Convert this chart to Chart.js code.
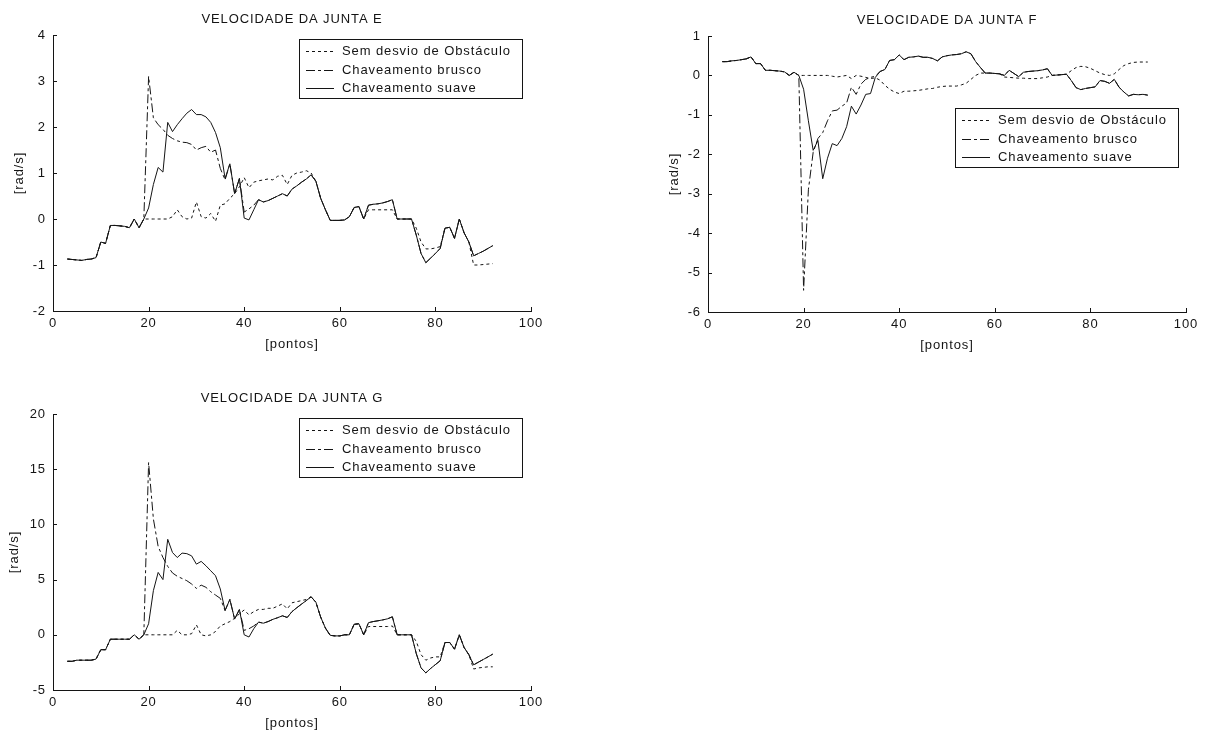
<!DOCTYPE html>
<html>
<head>
<meta charset="utf-8">
<title>Velocidade das juntas E, F e G</title>
<script src="https://cdn.jsdelivr.net/npm/chart.js@4.4.0/dist/chart.umd.min.js"></script>
<style>
  html, body { margin: 0; padding: 0; background: #fff; overflow: hidden; }
  #fig { position: relative; width: 1205px; height: 735px; }
  #fig canvas { position: absolute; }
</style>
</head>
<body>
<div id="fig">
  <canvas id="juntaE" width="600" height="356" style="left:0px;top:0px"></canvas>
  <canvas id="juntaF" width="550" height="356" style="left:655px;top:1px"></canvas>
  <canvas id="juntaG" width="600" height="356" style="left:0px;top:379px"></canvas>
</div>
<script>
// Sample index along the trajectory (x axis, "pontos")
const pontos = [
   3,  4,  5,  6,  7,  8,  9, 10, 11, 12,
  13, 14, 15, 16, 17, 18, 19, 20, 21, 22,
  23, 24, 25, 26, 27, 28, 29, 30, 31, 32,
  33, 34, 35, 36, 37, 38, 39, 40, 41, 42,
  43, 44, 45, 46, 47, 48, 49, 50, 51, 52,
  53, 54, 55, 56, 57, 58, 59, 60, 61, 62,
  63, 64, 65, 66, 67, 68, 69, 70, 71, 72,
  73, 74, 75, 76, 77, 78, 79, 80, 81, 82,
  83, 84, 85, 86, 87, 88, 89, 90, 91, 92
];

const legendas = ['Sem desvio de Obstáculo', 'Chaveamento brusco', 'Chaveamento suave'];

// Junta E [rad/s]
const juntaE_sem = [
  -0.87,-0.88,-0.89,-0.90,-0.88,-0.87,-0.84,-0.50,-0.53,-0.14,
  -0.14,-0.15,-0.16,-0.19, 0.00,-0.19, 0.00, 0.00, 0.00, 0.00,
   0.00, 0.00, 0.05, 0.20, 0.05, 0.00, 0.02, 0.37, 0.05, 0.02,
   0.12,-0.05, 0.30, 0.33, 0.45, 0.55, 0.70, 0.90, 0.68, 0.80,
   0.83, 0.85, 0.87, 0.85, 0.93, 0.95, 0.75, 0.95, 1.00, 1.02,
   1.05, 1.00, 0.82, 0.45, 0.20,-0.03,-0.03,-0.03,-0.02, 0.05,
   0.25, 0.27, 0.00, 0.20, 0.20, 0.20, 0.20, 0.20, 0.20, 0.00,
   0.00, 0.00, 0.00,-0.20,-0.50,-0.65,-0.65,-0.63,-0.60,-0.20,
  -0.18,-0.42, 0.00,-0.30,-0.50,-1.00,-1.00,-0.99,-0.98,-0.97
];
const juntaE_brusco = [
  -0.87,-0.88,-0.89,-0.90,-0.88,-0.87,-0.84,-0.50,-0.53,-0.14,
  -0.14,-0.15,-0.16,-0.19, 0.00,-0.19, 0.00, 3.10, 2.20, 2.05,
   1.95, 1.82, 1.75, 1.70, 1.67, 1.66, 1.62, 1.50, 1.55, 1.58,
   1.45, 1.50, 1.10, 0.85, 1.20, 0.55, 0.88, 0.15, 0.22, 0.30,
   0.42, 0.37, 0.40, 0.45, 0.50, 0.55, 0.50, 0.65, 0.72, 0.80,
   0.87, 0.96, 0.82, 0.45, 0.20,-0.03,-0.03,-0.03,-0.02, 0.05,
   0.25, 0.27, 0.00, 0.30, 0.32, 0.33, 0.35, 0.38, 0.42, 0.00,
   0.00, 0.00, 0.00,-0.35,-0.75,-0.95,-0.85,-0.75,-0.64,-0.20,
  -0.18,-0.42, 0.00,-0.30,-0.50,-0.80,-0.75,-0.70,-0.64,-0.58
];
const juntaE_suave = [
  -0.87,-0.88,-0.89,-0.90,-0.88,-0.87,-0.84,-0.50,-0.53,-0.14,
  -0.14,-0.15,-0.16,-0.19, 0.00,-0.19, 0.00, 0.24, 0.75, 1.12,
   1.02, 2.10, 1.90, 2.05, 2.18, 2.30, 2.38, 2.27, 2.27, 2.22,
   2.10, 1.88, 1.55, 0.88, 1.20, 0.55, 0.88, 0.02,-0.02, 0.20,
   0.42, 0.37, 0.40, 0.45, 0.50, 0.55, 0.50, 0.65, 0.72, 0.80,
   0.87, 0.96, 0.82, 0.45, 0.20,-0.03,-0.03,-0.03,-0.02, 0.05,
   0.25, 0.27, 0.00, 0.30, 0.32, 0.33, 0.35, 0.38, 0.42, 0.00,
   0.00, 0.00, 0.00,-0.35,-0.75,-0.95,-0.85,-0.75,-0.64,-0.20,
  -0.18,-0.42, 0.00,-0.30,-0.50,-0.80,-0.75,-0.70,-0.64,-0.58
];

// Junta F [rad/s]
const juntaF_sem = [
   0.35, 0.35, 0.37, 0.38, 0.40, 0.42, 0.47, 0.30, 0.30, 0.13,
   0.13, 0.12, 0.11, 0.09, 0.00, 0.08, 0.00, 0.00, 0.00, 0.00,
   0.00, 0.00, 0.00,-0.02,-0.04,-0.02, 0.00,-0.08, 0.00,-0.02,
  -0.05,-0.08,-0.06,-0.12,-0.25,-0.35,-0.42,-0.46,-0.40,-0.40,
  -0.39,-0.38,-0.36,-0.34,-0.33,-0.30,-0.28,-0.27,-0.27,-0.27,
  -0.24,-0.20,-0.10, 0.00, 0.06, 0.06, 0.06, 0.05, 0.04,-0.04,
  -0.05,-0.06,-0.07,-0.07,-0.08,-0.08,-0.08,-0.06,-0.04, 0.00,
   0.01, 0.02, 0.03, 0.12, 0.20, 0.23, 0.22, 0.18, 0.12, 0.06,
   0.02, 0.00, 0.04, 0.15, 0.25, 0.30, 0.33, 0.34, 0.34, 0.34
];
const juntaF_brusco = [
   0.35, 0.35, 0.37, 0.38, 0.40, 0.42, 0.47, 0.30, 0.30, 0.13,
   0.13, 0.12, 0.11, 0.09, 0.00, 0.08, 0.00,-5.45,-2.90,-1.95,
  -1.60,-1.45,-1.15,-0.90,-0.88,-0.78,-0.70,-0.30,-0.48,-0.22,
  -0.10,-0.05,-0.02, 0.10, 0.15, 0.38, 0.40, 0.52, 0.40, 0.46,
   0.47, 0.49, 0.46, 0.46, 0.43, 0.37, 0.47, 0.50, 0.52, 0.53,
   0.55, 0.60, 0.55, 0.35, 0.20, 0.06, 0.06, 0.05, 0.04, 0.00,
   0.13, 0.05,-0.03, 0.08, 0.10, 0.11, 0.12, 0.14, 0.17, 0.00,
   0.01, 0.02, 0.03,-0.13,-0.31,-0.36,-0.33,-0.31,-0.29,-0.13,
  -0.15,-0.20,-0.10,-0.30,-0.42,-0.52,-0.48,-0.49,-0.48,-0.50
];
const juntaF_suave = [
   0.35, 0.35, 0.37, 0.38, 0.40, 0.42, 0.47, 0.30, 0.30, 0.13,
   0.13, 0.12, 0.11, 0.09, 0.00, 0.08, 0.00,-0.35,-1.15,-1.90,
  -1.65,-2.62,-2.10,-1.73,-1.78,-1.60,-1.30,-0.78,-0.98,-0.75,
  -0.48,-0.46,-0.05, 0.10, 0.15, 0.38, 0.40, 0.52, 0.40, 0.46,
   0.47, 0.49, 0.46, 0.46, 0.43, 0.37, 0.47, 0.50, 0.52, 0.53,
   0.55, 0.60, 0.55, 0.35, 0.20, 0.06, 0.06, 0.05, 0.04, 0.00,
   0.13, 0.05,-0.03, 0.08, 0.10, 0.11, 0.12, 0.14, 0.17, 0.00,
   0.01, 0.02, 0.03,-0.13,-0.31,-0.36,-0.33,-0.31,-0.29,-0.13,
  -0.15,-0.20,-0.10,-0.30,-0.42,-0.52,-0.48,-0.49,-0.48,-0.50
];

// Junta G [rad/s]
const juntaG_sem = [
  -2.40,-2.40,-2.30,-2.30,-2.30,-2.30,-2.20,-1.35,-1.35,-0.40,
  -0.40,-0.40,-0.40,-0.40, 0.00,-0.40, 0.00, 0.00, 0.00, 0.00,
   0.00, 0.00, 0.00, 0.40, 0.00, 0.00, 0.10, 0.90, 0.00,-0.10,
   0.00, 0.30, 0.80, 1.00, 1.20, 1.50, 1.90, 2.25, 1.80, 2.10,
   2.30, 2.30, 2.40, 2.40, 2.60, 2.80, 2.35, 2.90, 3.00, 3.10,
   3.20, 3.44, 2.95, 1.60, 0.60,-0.05,-0.10,-0.10, 0.00, 0.00,
   0.95, 1.00, 0.00, 0.75, 0.75, 0.75, 0.75, 0.75, 0.80, 0.00,
   0.00, 0.00, 0.00,-0.60,-1.80,-2.30,-2.10,-2.00,-2.00,-0.70,
  -0.70,-1.30, 0.00,-1.15,-1.80,-3.10,-3.00,-2.95,-2.90,-2.90
];
const juntaG_brusco = [
  -2.40,-2.40,-2.30,-2.30,-2.30,-2.30,-2.20,-1.35,-1.35,-0.40,
  -0.40,-0.40,-0.40,-0.40, 0.00,-0.40, 0.00,15.60,10.50, 8.00,
   7.00, 6.20, 5.60, 5.30, 5.10, 4.90, 4.60, 4.20, 4.50, 4.30,
   3.90, 3.60, 3.30, 2.20, 3.20, 1.42, 2.30, 0.40, 0.55, 0.80,
   1.15, 1.05, 1.20, 1.40, 1.55, 1.72, 1.57, 2.10, 2.45, 2.78,
   3.10, 3.44, 2.95, 1.60, 0.60,-0.05,-0.10,-0.10, 0.00, 0.00,
   0.95, 1.00, 0.00, 1.10, 1.20, 1.27, 1.35, 1.45, 1.63, 0.00,
   0.00, 0.00, 0.00,-1.70,-3.00,-3.45,-3.05,-2.70,-2.35,-0.70,
  -0.70,-1.30, 0.00,-1.15,-1.80,-2.72,-2.48,-2.24,-2.00,-1.75
];
const juntaG_suave = [
  -2.40,-2.40,-2.30,-2.30,-2.30,-2.30,-2.20,-1.35,-1.35,-0.40,
  -0.40,-0.40,-0.40,-0.40, 0.00,-0.40, 0.00, 1.00, 4.00, 5.65,
   5.00, 8.65, 7.45, 7.00, 7.40, 7.35, 7.15, 6.40, 6.65, 6.25,
   5.80, 5.35, 4.15, 2.20, 3.20, 1.42, 2.30, 0.00,-0.20, 0.55,
   1.15, 1.05, 1.20, 1.40, 1.55, 1.72, 1.57, 2.10, 2.45, 2.78,
   3.10, 3.44, 2.95, 1.60, 0.60,-0.05,-0.10,-0.10, 0.00, 0.00,
   0.95, 1.00, 0.00, 1.10, 1.20, 1.27, 1.35, 1.45, 1.63, 0.00,
   0.00, 0.00, 0.00,-1.70,-3.00,-3.45,-3.05,-2.70,-2.35,-0.70,
  -0.70,-1.30, 0.00,-1.15,-1.80,-2.72,-2.48,-2.24,-2.00,-1.75
];

// Axis limits and tick steps
const eixoX = { min: 0, max: 100, step: 20 };
const eixoE = { min: -2, max: 4, step: 1 };
const eixoF = { min: -6, max: 1, step: 1 };
const eixoG = { min: -5, max: 20, step: 5 };

const INK = '#141414';
const FONT = "'Liberation Sans', Arial, sans-serif";
const SIZE = 13;
const estilos = [
  { borderDash: [3, 3] },          // pontilhado
  { borderDash: [9, 3, 3, 3] },    // traço-ponto
  { borderDash: [] }               // contínuo
];

Chart.defaults.font.family = FONT;
Chart.defaults.font.size = SIZE;
Chart.defaults.color = INK;

// Slightly wider glyph spacing for all canvas text
const tracking = {
  id: 'tracking',
  beforeDraw(chart) { chart.ctx.letterSpacing = '0.9px'; }
};

// Short tick marks pointing into the plot area
const inwardTicks = {
  id: 'inwardTicks',
  afterDraw(chart, args, o) {
    const { ctx, chartArea: a, scales: { x, y } } = chart;
    ctx.save();
    ctx.strokeStyle = INK;
    ctx.lineWidth = 1;
    ctx.beginPath();
    x.ticks.forEach(t => {
      const px = Math.round(x.getPixelForValue(t.value)) + 0.5;
      ctx.moveTo(px, a.bottom);
      ctx.lineTo(px, a.bottom - o.length);
    });
    y.ticks.forEach(t => {
      const py = Math.round(y.getPixelForValue(t.value)) + 0.5;
      ctx.moveTo(a.left, py);
      ctx.lineTo(a.left + o.length, py);
    });
    ctx.stroke();
    ctx.restore();
  }
};

// Framed legend box inside the plot area
const boxLegend = {
  id: 'boxLegend',
  afterDraw(chart, args, o) {
    const { ctx, chartArea: a } = chart;
    const x0 = Math.round(a.right - o.right - o.width);
    const y0 = Math.round(a.top + o.top);
    ctx.save();
    ctx.fillStyle = '#fff';
    ctx.fillRect(x0, y0, o.width, o.height);
    ctx.strokeStyle = INK;
    ctx.lineWidth = 1;
    ctx.strokeRect(x0 + 0.5, y0 + 0.5, o.width - 1, o.height - 1);
    ctx.font = SIZE + 'px ' + FONT;
    ctx.fillStyle = INK;
    ctx.textAlign = 'left';
    ctx.textBaseline = 'middle';
    chart.data.datasets.forEach((ds, i) => {
      const yy = Math.round(y0 + o.firstRow + i * o.rowStep) + 0.5;
      ctx.setLineDash(ds.borderDash || []);
      ctx.beginPath();
      ctx.moveTo(x0 + o.lineFrom, yy);
      ctx.lineTo(x0 + o.lineTo, yy);
      ctx.stroke();
      ctx.setLineDash([]);
      ctx.fillText(ds.label, x0 + o.textAt, yy);
    });
    ctx.restore();
  }
};

function serie(valores) {
  return pontos.map((p, i) => ({ x: p, y: valores[i] }));
}

function grafico(id, titulo, series, eixoY, legendaPos, yTitlePad, padRight) {
  return new Chart(document.getElementById(id), {
    type: 'line',
    data: {
      datasets: series.map((v, i) => ({
        label: legendas[i],
        data: serie(v),
        borderColor: INK,
        borderWidth: 1,
        borderDash: estilos[i].borderDash,
        pointRadius: 0,
        tension: 0,
        fill: false
      }))
    },
    options: {
      responsive: false,
      animation: false,
      events: [],
      devicePixelRatio: 1,
      layout: { padding: { left: 0, right: padRight, top: 0, bottom: 0 } },
      plugins: {
        legend: { display: false },
        tooltip: { enabled: false },
        title: {
          display: true,
          text: titulo,
          fullSize: false,
          color: INK,
          font: { size: SIZE, weight: 'normal', family: FONT },
          padding: { top: 11.2, bottom: 8.2 }
        },
        inwardTicks: { length: 4 },
        boxLegend: Object.assign({
          width: 224, height: 60, firstRow: 12, rowStep: 18.5,
          lineFrom: 7, lineTo: 35, textAt: 43
        }, legendaPos)
      },
      scales: {
        x: {
          type: 'linear',
          min: eixoX.min, max: eixoX.max,
          afterFit(s) { s.height = 45; },
          grid: { display: false, drawTicks: false },
          border: { display: true, color: INK, width: 1 },
          ticks: { stepSize: eixoX.step, padding: 4.2, color: INK, maxRotation: 0 },
          title: { display: true, text: '[pontos]', color: INK, padding: { top: 0, bottom: 4.2 } }
        },
        y: {
          type: 'linear',
          min: eixoY.min, max: eixoY.max,
          afterFit(s) { s.width = 53; },
          grid: { display: false, drawTicks: false },
          border: { display: true, color: INK, width: 1 },
          ticks: { stepSize: eixoY.step, padding: 7, color: INK },
          title: { display: true, text: '[rad/s]', color: INK, padding: { top: yTitlePad, bottom: 0 } }
        }
      }
    },
    plugins: [tracking, inwardTicks, boxLegend]
  });
}

grafico('juntaE', 'VELOCIDADE DA JUNTA E',
  [juntaE_sem, juntaE_brusco, juntaE_suave], eixoE, { right: 8, top: 4 }, 11.2, 69);
grafico('juntaF', 'VELOCIDADE DA JUNTA F',
  [juntaF_sem, juntaF_brusco, juntaF_suave], eixoF, { right: 7, top: 72 }, 11.2, 19);
grafico('juntaG', 'VELOCIDADE DA JUNTA G',
  [juntaG_sem, juntaG_brusco, juntaG_suave], eixoG, { right: 8, top: 4 }, 6.7, 69);
</script>
</body>
</html>
